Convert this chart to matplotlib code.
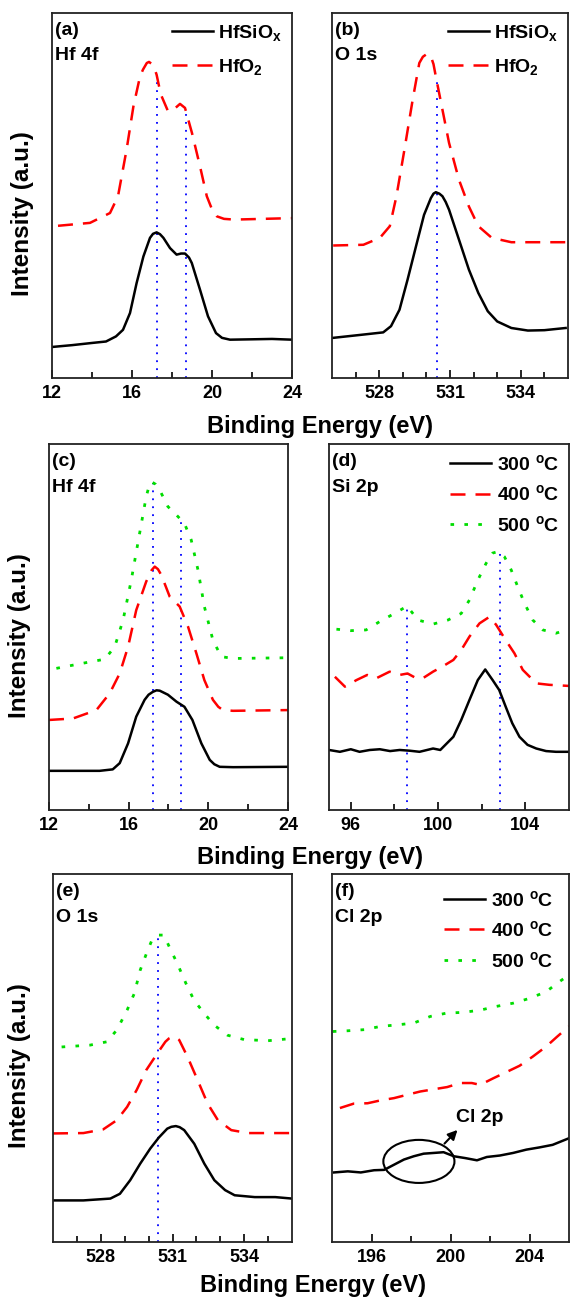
import numpy as np
import matplotlib
matplotlib.use("Agg")
import matplotlib.pyplot as plt
from matplotlib.patches import Ellipse

plt.rcParams['font.family'] = ['Liberation Sans', 'DejaVu Sans']
plt.rcParams['font.weight'] = 'bold'
plt.rcParams['mathtext.fontset'] = 'custom'
plt.rcParams['mathtext.rm'] = 'Liberation Sans:bold'
plt.rcParams['mathtext.it'] = 'Liberation Sans:bold'
plt.rcParams['mathtext.bf'] = 'Liberation Sans:bold'

# (a) Hf 4f, HfSiOx vs HfO2
a_x_hfsio = [12.0, 13.0, 14.0, 14.7, 15.2, 15.55, 15.9, 16.23, 16.57, 16.9, 17.05, 17.23, 17.4, 17.57,
             17.9, 18.23, 18.45, 18.65, 18.85, 18.99, 19.4, 19.8, 20.2, 20.5, 20.9, 22.0, 23.0, 24.0]
a_y_hfsio = [0.085, 0.090, 0.096, 0.100, 0.114, 0.132, 0.178, 0.260, 0.333, 0.384, 0.395, 0.399, 0.394,
             0.384, 0.356, 0.338, 0.341, 0.341, 0.330, 0.315, 0.242, 0.169, 0.123, 0.110, 0.105, 0.106,
             0.107, 0.105]
a_x_hfo2 = [12.3, 13.9, 14.9, 15.3, 15.73, 16.07, 16.4, 16.55, 16.74, 16.85, 17.0, 17.1, 17.23, 17.35,
            17.48, 17.8, 18.07, 18.4, 18.65, 19.0, 19.4, 19.74, 20.0, 20.24, 20.6, 21.1, 24.0]
a_y_hfo2 = [0.417, 0.425, 0.452, 0.498, 0.626, 0.744, 0.826, 0.845, 0.863, 0.866, 0.860, 0.852, 0.831,
            0.800, 0.772, 0.731, 0.735, 0.751, 0.740, 0.671, 0.580, 0.498, 0.462, 0.443, 0.436, 0.434,
            0.438]
a_lines = [17.24, 18.69]

# (b) O 1s, HfSiOx vs HfO2
b_x_hfsio = [526.05, 527.33, 528.17, 528.5, 528.86, 529.2, 529.56, 529.9, 530.19, 530.3, 530.4, 530.55,
             530.68, 530.82, 530.96, 531.17, 531.38, 531.8, 532.2, 532.6, 533.0, 533.6, 534.3, 535.0,
             535.9]
b_y_hfsio = [0.110, 0.119, 0.125, 0.142, 0.187, 0.269, 0.361, 0.447, 0.493, 0.505, 0.509, 0.505,
             0.498, 0.482, 0.461, 0.420, 0.379, 0.297, 0.233, 0.183, 0.155, 0.137, 0.130, 0.131,
             0.137]
b_x_hfo2 = [526.05, 527.33, 528.03, 528.45, 528.73, 529.07, 529.42, 529.7, 529.85, 529.98, 530.08,
            530.19, 530.3, 530.4, 530.68, 530.96, 531.38, 531.8, 532.2, 532.77, 533.6, 535.9]
b_y_hfo2 = [0.363, 0.365, 0.384, 0.416, 0.498, 0.626, 0.763, 0.863, 0.880, 0.886, 0.888,
            0.881, 0.860, 0.826, 0.735, 0.644, 0.543, 0.470, 0.416, 0.384, 0.372, 0.372]
b_lines = [530.43]

# (c) Hf 4f, 300/400/500 C
c_x_300 = [12.0, 14.54, 15.2, 15.55, 15.97, 16.38, 16.8, 17.0, 17.22, 17.4, 17.56, 17.97, 18.4, 18.8,
           19.2, 19.65, 20.07, 20.3, 20.57, 21.24, 24.0]
c_y_300 = [0.107, 0.107, 0.111, 0.128, 0.182, 0.255, 0.301, 0.315, 0.323, 0.327, 0.326, 0.315, 0.296,
           0.282, 0.246, 0.182, 0.137, 0.125, 0.118, 0.117, 0.118]
c_x_400 = [12.0, 13.2, 14.38, 15.05, 15.55, 15.97, 16.38, 16.88, 17.15, 17.31, 17.47, 17.64, 18.06,
           18.56, 18.98, 19.4, 19.8, 20.23, 20.5, 20.73, 21.24, 24.0]
c_y_400 = [0.246, 0.250, 0.273, 0.319, 0.373, 0.446, 0.546, 0.624, 0.655, 0.665, 0.658, 0.642, 0.583,
           0.556, 0.501, 0.428, 0.355, 0.301, 0.282, 0.273, 0.271, 0.273]
c_x_500 = [12.37, 13.7, 14.8, 15.3, 15.72, 16.13, 16.55, 16.88, 17.0, 17.14, 17.35, 17.56, 17.97,
           18.4, 18.8, 19.14, 19.48, 19.8, 20.23, 20.65, 21.24, 24.0]
c_y_500 = [0.387, 0.401, 0.412, 0.446, 0.519, 0.628, 0.756, 0.856, 0.880, 0.897, 0.890, 0.874, 0.829,
           0.806, 0.783, 0.738, 0.656, 0.556, 0.464, 0.419, 0.414, 0.416]
c_lines = [17.22, 18.61]

# (d) Si 2p
d_x_300 = [95.0, 95.5, 96.0, 96.4, 96.87, 97.33, 97.8, 98.24, 98.7, 99.15, 99.77, 100.1, 100.4,
           100.7, 101.06, 101.44, 101.82, 102.16, 102.5, 102.8, 103.1, 103.4, 103.73, 104.1, 104.5,
           104.95, 105.4, 106.0]
d_y_300 = [0.164, 0.159, 0.166, 0.159, 0.164, 0.166, 0.161, 0.164, 0.162, 0.159, 0.168, 0.164, 0.182,
           0.200, 0.246, 0.301, 0.355, 0.384, 0.355, 0.328, 0.282, 0.237, 0.200, 0.178, 0.168,
           0.161, 0.159, 0.159]
d_x_400 = [95.27, 95.73, 96.26, 96.75, 97.17, 97.78, 98.24, 98.6, 99.0, 99.3, 99.77, 100.2, 100.7,
           101.06, 101.44, 101.9, 102.36, 102.66, 103.1, 103.5, 103.88, 104.5, 105.1, 106.0]
d_y_400 = [0.364, 0.337, 0.355, 0.369, 0.360, 0.378, 0.369, 0.373, 0.360, 0.360, 0.378, 0.392, 0.410,
           0.437, 0.474, 0.510, 0.528, 0.506, 0.464, 0.428, 0.383, 0.346, 0.342, 0.339]
d_x_500 = [95.34, 96.0, 96.7, 97.33, 98.0, 98.58, 99.08, 99.77, 100.45, 101.06, 101.44, 101.82,
           102.2, 102.5, 102.74, 103.04, 103.35, 103.65, 103.96, 104.34, 104.8, 105.4, 106.0]
d_y_500 = [0.494, 0.490, 0.492, 0.515, 0.537, 0.557, 0.519, 0.508, 0.519, 0.537, 0.574, 0.628,
           0.674, 0.702, 0.706, 0.692, 0.656, 0.610, 0.565, 0.519, 0.492, 0.483, 0.494]
d_lines = [98.58, 102.84]

# (e) O 1s
e_x_300 = [526.0, 527.27, 528.4, 528.8, 529.23, 529.65, 530.07, 530.43, 530.78, 530.95, 531.14, 531.3,
           531.49, 531.91, 532.33, 532.75, 533.2, 533.6, 534.44, 535.3, 536.0]
e_y_300 = [0.113, 0.113, 0.118, 0.131, 0.168, 0.213, 0.254, 0.284, 0.308, 0.313, 0.315, 0.312,
           0.304, 0.267, 0.213, 0.168, 0.141, 0.127, 0.122, 0.122, 0.118]
e_x_400 = [526.0, 527.27, 528.1, 528.67, 529.1, 529.5, 529.9, 530.36, 530.7, 530.85, 531.0, 531.15,
           531.28, 531.63, 532.05, 532.47, 532.9, 533.46, 534.16, 536.0]
e_y_400 = [0.295, 0.296, 0.306, 0.331, 0.367, 0.413, 0.467, 0.512, 0.544, 0.553, 0.558, 0.556,
           0.549, 0.503, 0.440, 0.376, 0.331, 0.304, 0.296, 0.296]
e_x_500 = [526.36, 527.55, 528.25, 528.67, 529.1, 529.4, 529.65, 529.94, 530.15, 530.43, 530.64,
           530.93, 531.2, 531.56, 531.9, 532.33, 532.75, 533.3, 534.0, 535.0, 536.0]
e_y_500 = [0.530, 0.535, 0.544, 0.576, 0.630, 0.675, 0.739, 0.789, 0.822, 0.834, 0.834,
           0.793, 0.757, 0.703, 0.657, 0.621, 0.589, 0.562, 0.550, 0.547, 0.553]
e_lines = [530.41]

# (f) Cl 2p
f_x_300 = [194.1, 194.8, 195.46, 196.13, 196.64, 197.14, 197.64, 198.14, 198.64, 199.15, 199.65,
           200.17, 200.75, 201.34, 201.84, 202.5, 203.17, 203.84, 204.5, 205.17, 206.0]
f_y_300 = [0.189, 0.192, 0.189, 0.195, 0.196, 0.210, 0.224, 0.233, 0.240, 0.242, 0.244,
           0.233, 0.228, 0.222, 0.231, 0.235, 0.242, 0.251, 0.257, 0.264, 0.282]
f_x_400 = [194.4, 195.1, 195.8, 196.47, 197.14, 197.8, 198.47, 199.15, 199.83, 200.5, 201.08,
           201.5, 202.17, 202.84, 203.5, 204.17, 204.84, 205.4, 206.0]
f_y_400 = [0.364, 0.376, 0.377, 0.385, 0.391, 0.400, 0.409, 0.415, 0.421, 0.432, 0.432,
           0.427, 0.445, 0.462, 0.479, 0.504, 0.531, 0.558, 0.586]
f_x_500 = [194.04, 194.8, 195.63, 196.47, 197.3, 198.14, 198.98, 199.8, 200.64, 201.5, 202.3,
           203.17, 204.0, 204.84, 205.4, 206.0]
f_y_500 = [0.572, 0.574, 0.577, 0.586, 0.590, 0.595, 0.613, 0.622, 0.624, 0.630, 0.640,
           0.649, 0.662, 0.680, 0.703, 0.726]

temps = ['300 $^{o}$C', '400 $^{o}$C', '500 $^{o}$C']
samples = ['HfSiO$_{x}$', 'HfO$_{2}$']

black = dict(color='black', lw=1.8)
red = dict(color='red', lw=1.8, dashes=(6, 4))
green = dict(color='#00dd00', lw=2.0, dashes=(1.3, 3.7))

fig = plt.figure(figsize=(5.71, 13.04), dpi=100)
W, H = 571.0, 1304.0


def make_ax(l, t, r, b):
    return fig.add_axes([l / W, 1 - b / H, (r - l) / W, (b - t) / H])


def style(ax, xlim, major, minor):
    ax.set_xlim(xlim)
    ax.set_ylim(0, 1)
    ax.set_xticks(major)
    ax.set_xticks(minor, minor=True)
    ax.set_yticks([])
    ax.tick_params(axis='x', which='both', direction='in', top=False)
    ax.tick_params(axis='x', which='major', length=6, width=1.2, labelsize=13, pad=5)
    ax.tick_params(axis='x', which='minor', length=4, width=1.2)
    for s in ax.spines.values():
        s.set_linewidth(1.3)
        s.set_color('#222222')


def vlines(ax, xs, top_x, top_y):
    for x in xs:
        ax.plot([x, x], [0, np.interp(x, top_x, top_y)], color='blue', lw=1.3, dashes=(1, 3.4), zorder=1)


def tag(ax, a, b):
    ax.text(0.012, 0.94, a, transform=ax.transAxes, fontsize=14)
    ax.text(0.012, 0.87, b, transform=ax.transAxes, fontsize=14)


def legend(ax, spacing, pad):
    ax.legend(loc='upper right', frameon=False, fontsize=14, handlelength=2.1, handletextpad=0.3,
              labelspacing=spacing, borderaxespad=pad, borderpad=0.2)


# (a)
ax = make_ax(52, 13, 292, 378)
ax.plot(a_x_hfsio, a_y_hfsio, label=samples[0], **black)
ax.plot(a_x_hfo2, a_y_hfo2, label=samples[1], **red)
vlines(ax, a_lines, a_x_hfo2, a_y_hfo2)
style(ax, (12, 24), [12, 16, 20, 24], [14, 18, 22])
tag(ax, '(a)', 'Hf 4f')
legend(ax, 0.75, 0.3)

# (b)
ax = make_ax(332, 13, 568, 378)
ax.plot(b_x_hfsio, b_y_hfsio, label=samples[0], **black)
ax.plot(b_x_hfo2, b_y_hfo2, label=samples[1], **red)
vlines(ax, b_lines, b_x_hfo2, b_y_hfo2)
style(ax, (526, 536), [528, 531, 534], [527, 529, 530, 532, 533, 535])
tag(ax, '(b)', 'O 1s')
legend(ax, 0.75, 0.3)

# (c)
ax = make_ax(49, 444, 288, 810)
ax.plot(c_x_300, c_y_300, **black)
ax.plot(c_x_400, c_y_400, **red)
ax.plot(c_x_500, c_y_500, **green)
vlines(ax, c_lines, c_x_500, c_y_500)
style(ax, (12, 24), [12, 16, 20, 24], [14, 18, 22])
tag(ax, '(c)', 'Hf 4f')

# (d)
ax = make_ax(329, 444, 569, 810)
ax.plot(d_x_300, d_y_300, label=temps[0], **black)
ax.plot(d_x_400, d_y_400, label=temps[1], **red)
ax.plot(d_x_500, d_y_500, label=temps[2], **green)
vlines(ax, d_lines, d_x_500, d_y_500)
style(ax, (95, 106), [96, 100, 104], [98, 102])
tag(ax, '(d)', 'Si 2p')
legend(ax, 0.55, 0.3)

# (e)
ax = make_ax(53, 874, 292, 1242)
ax.plot(e_x_300, e_y_300, **black)
ax.plot(e_x_400, e_y_400, **red)
ax.plot(e_x_500, e_y_500, **green)
vlines(ax, e_lines, e_x_500, e_y_500)
style(ax, (526, 536), [528, 531, 534], [527, 529, 530, 532, 533, 535])
tag(ax, '(e)', 'O 1s')

# (f)
ax = make_ax(332, 874, 569, 1242)
ax.plot(f_x_300, f_y_300, label=temps[0], **black)
ax.plot(f_x_400, f_y_400, label=temps[1], **red)
ax.plot(f_x_500, f_y_500, label=temps[2], **green)
style(ax, (194, 206), [196, 200, 204], [198, 202])
tag(ax, '(f)', 'Cl 2p')
legend(ax, 0.55, 0.6)
ax.add_patch(Ellipse((198.4, 0.219), 3.6, 0.117, fill=False, ec='black', lw=1.5))
ax.annotate('', xy=(200.45, 0.31), xytext=(199.6, 0.262),
            arrowprops=dict(arrowstyle='-|>', color='black', lw=1.5, mutation_scale=14))
ax.text(201.5, 0.337, 'Cl 2p', ha='center', va='center', fontsize=14)

# shared axis labels
for xc, yb in [(320, 433), (310, 864), (313, 1292)]:
    fig.text(xc / W, 1 - yb / H, 'Binding Energy (eV)', ha='center', va='baseline', fontsize=17)
for xc, yc in [(22.5, 214), (20, 636), (20, 1066)]:
    fig.text(xc / W, 1 - yc / H, 'Intensity (a.u.)', rotation=90, ha='center', va='center', fontsize=17.5)

fig.savefig('out.png', dpi=100)
